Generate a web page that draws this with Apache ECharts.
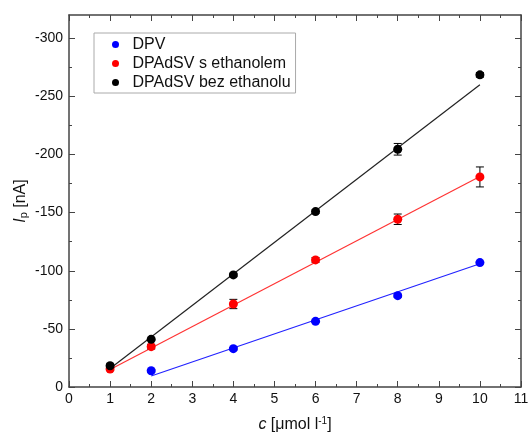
<!DOCTYPE html>
<html>
<head>
<meta charset="utf-8">
<script src="https://cdn.jsdelivr.net/npm/echarts@6/dist/echarts.min.js"></script>
<style>html,body{margin:0;padding:0;background:#fff}#c{width:528px;height:432px}</style>
</head>
<body>
<div id="c"></div>
<script>
// ---- data ----
const seriesNames = ['DPV', 'DPAdSV s ethanolem', 'DPAdSV bez ethanolu'];
const xEth = [1, 2, 4, 6, 8, 10];
const xDpv = [2, 4, 6, 8, 10];
const dpv = [-14, -33, -56.5, -78.6, -107];
const dpvErr = [1, 1, 1, 1.2, 1];
const withEth = [-15.5, -34.7, -71.4, -109.3, -144.3, -180.7];
const withEthErr = [1.5, 2, 4, 2, 4.5, 8.6];
const noEth = [-18.3, -41, -96.4, -150.9, -204.5, -268.5];
const noEthErr = [1.5, 1, 1.5, 1.5, 5, 2];
// fitted lines (end points)
const dpvFitX = [2, 10];
const dpvFit = [-9.5, -106];
const ethFitX = [1, 10];
const withEthFit = [-15, -181];
const noEthFit = [-16, -260];
// axis ticks
const yLabels = [-300, -250, -200, -150, -100, -50, 0];
const yMinor = [-275, -225, -175, -125, -75, -25];

const colors = ['#0000ff', '#ff0000', '#000000'];
const FONT = 'Liberation Sans, Arial, sans-serif';
const axisColor = '#444';

function pairs(xs, ys) { return xs.map((x, i) => [x, ys[i]]); }
function triples(xs, ys, es) { return xs.map((x, i) => [x, ys[i], es[i]]); }

function renderErr(params, api) {
  const x = api.value(0), y = api.value(1), e = api.value(2);
  const a = api.coord([x, y - e]), b = api.coord([x, y + e]);
  const w = 4;
  const st = { stroke: '#000', lineWidth: 1 };
  return {
    type: 'group',
    children: [
      { type: 'line', shape: { x1: a[0], y1: a[1], x2: b[0], y2: b[1] }, style: st },
      { type: 'line', shape: { x1: a[0] - w, y1: a[1], x2: a[0] + w, y2: a[1] }, style: st },
      { type: 'line', shape: { x1: b[0] - w, y1: b[1], x2: b[0] + w, y2: b[1] }, style: st }
    ]
  };
}

function xAx(pos, labels) {
  return {
    type: 'value', min: 0, max: 11, interval: 1, position: pos,
    axisLine: { show: true, onZero: false, lineStyle: { color: axisColor, width: 1.5 } },
    axisTick: { show: true, inside: true, length: 6, lineStyle: { color: axisColor, width: 1 } },
    minorTick: { show: true, splitNumber: 2, length: 3, lineStyle: { color: axisColor, width: 1 } },
    axisLabel: labels ? { margin: 5, fontSize: 14, color: '#111', fontFamily: FONT } : { show: false },
    splitLine: { show: false }
  };
}
function yAx(pos, ticks, len, labels, line) {
  return {
    type: 'value', position: pos, min: -320, max: 0, inverse: true,
    axisLine: { show: line, onZero: false, lineStyle: { color: axisColor, width: 1.5 } },
    axisTick: { show: true, inside: true, length: len, customValues: ticks, lineStyle: { color: axisColor, width: 1 } },
    axisLabel: labels ? { show: true, customValues: ticks, margin: 6, fontSize: 14, color: '#111', fontFamily: FONT }
                      : { show: false },
    splitLine: { show: false }
  };
}

const chart = echarts.init(document.getElementById('c'), null, { renderer: 'canvas' });
chart.setOption({
  animation: false,
  backgroundColor: '#fff',
  textStyle: { fontFamily: FONT },
  grid: { left: 69, right: 7, top: 15, bottom: 45, containLabel: false, outerBoundsMode: 'none' },
  legend: {
    orient: 'vertical', left: 94, top: 33,
    data: seriesNames,
    icon: 'circle', itemWidth: 24, itemHeight: 7, itemGap: 0,
    padding: [2, 5, 1, 18],
    borderColor: '#aaa', borderWidth: 1, borderRadius: 0,
    backgroundColor: '#fff',
    textStyle: { fontSize: 16, color: '#111', lineHeight: 19, fontFamily: FONT }
  },
  xAxis: [
    Object.assign(xAx('bottom', true), {
      name: '{i|c} [\u03bcmol l{sup|-1}]', nameLocation: 'middle', nameGap: 29,
      nameTextStyle: {
        fontSize: 16, color: '#111', fontFamily: FONT,
        rich: {
          i: { fontStyle: 'italic', fontSize: 16, fontFamily: FONT },
          sup: { fontSize: 10, verticalAlign: 'top', padding: [0, 0, 8, 0], fontFamily: FONT }
        }
      }
    }),
    xAx('top', false)
  ],
  yAxis: [
    Object.assign(yAx('left', yLabels, 6, true, true), {
      name: '{i|I}{sub|p} [nA]', nameLocation: 'middle', nameRotate: 90, nameGap: 40,
      nameMoveOverlap: false,
      nameTextStyle: {
        fontSize: 16, color: '#111', fontFamily: FONT,
        rich: {
          i: { fontStyle: 'italic', fontSize: 16, fontFamily: FONT },
          sub: { fontSize: 11, verticalAlign: 'bottom', padding: [6, 0, 0, 0], fontFamily: FONT }
        }
      }
    }),
    yAx('right', yLabels, 6, false, true),
    yAx('left', yMinor, 3, false, false),
    yAx('right', yMinor, 3, false, false)
  ],
  series: [
    // fit lines
    { type: 'line', name: 'fit1', data: pairs(dpvFitX, dpvFit), symbol: 'none', lineStyle: { color: '#2222ff', width: 1.2 }, z: 2, silent: true },
    { type: 'line', name: 'fit2', data: pairs(ethFitX, withEthFit), symbol: 'none', lineStyle: { color: '#ff3333', width: 1.2 }, z: 2, silent: true },
    { type: 'line', name: 'fit3', data: pairs(ethFitX, noEthFit), symbol: 'none', lineStyle: { color: '#222', width: 1.2 }, z: 2, silent: true },
    // error bars
    { type: 'custom', name: 'err1', data: triples(xDpv, dpv, dpvErr), renderItem: renderErr, encode: { x: 0, y: 1 }, z: 3, silent: true },
    { type: 'custom', name: 'err2', data: triples(xEth, withEth, withEthErr), renderItem: renderErr, encode: { x: 0, y: 1 }, z: 3, silent: true },
    { type: 'custom', name: 'err3', data: triples(xEth, noEth, noEthErr), renderItem: renderErr, encode: { x: 0, y: 1 }, z: 3, silent: true },
    // points
    { type: 'scatter', name: seriesNames[0], data: pairs(xDpv, dpv), symbol: 'circle', symbolSize: 9, itemStyle: { color: colors[0], opacity: 1 }, z: 4 },
    { type: 'scatter', name: seriesNames[1], data: pairs(xEth, withEth), symbol: 'circle', symbolSize: 9, itemStyle: { color: colors[1], opacity: 1 }, z: 4 },
    { type: 'scatter', name: seriesNames[2], data: pairs(xEth, noEth), symbol: 'circle', symbolSize: 9, itemStyle: { color: colors[2], opacity: 1 }, z: 4 }
  ]
});
</script>
</body>
</html>
